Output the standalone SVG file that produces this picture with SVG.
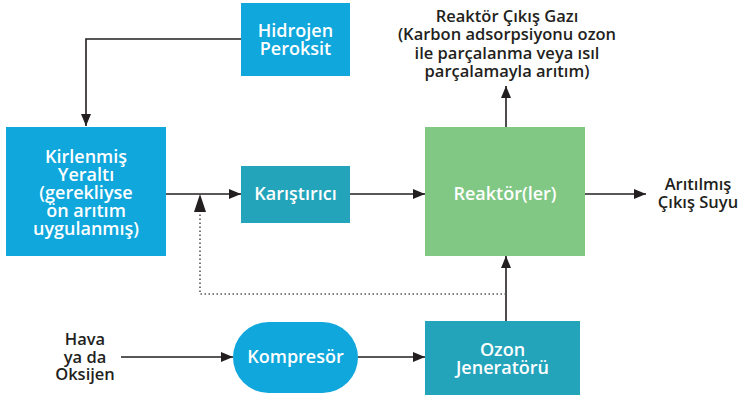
<svg xmlns="http://www.w3.org/2000/svg" width="741" height="395" viewBox="0 0 741 395">
  <defs>
    <marker id="arrow" markerWidth="12" markerHeight="10" refX="12" refY="5" orient="auto" markerUnits="userSpaceOnUse">
      <path d="M0,0 L12,5 L0,10 Z" fill="#231f20"/>
    </marker>
  </defs>
  <style>
    .blue { fill: #0fa7dc; }
    .teal { fill: #23a4bb; }
    .green { fill: #80c884; }
    .lbl { font-family: "Open Sans", "Liberation Sans", sans-serif; font-weight: 600; font-size: 18px; fill: #ffffff; text-anchor: middle; }
    .ext { font-family: "Open Sans", "Liberation Sans", sans-serif; font-weight: 600; font-size: 16.5px; fill: #231f20; text-anchor: middle; }
    .wire { fill: none; stroke: #231f20; stroke-width: 1.6; }
    .dot { fill: none; stroke: #555555; stroke-width: 1.6; stroke-dasharray: 1.5 2.5; }
  </style>

  <g id="connectors">
    <polyline class="wire" points="241,39 86,39 86,126" marker-end="url(#arrow)"/>
    <line class="wire" x1="166" y1="194" x2="241" y2="194" marker-end="url(#arrow)"/>
    <line class="wire" x1="350" y1="194" x2="425" y2="194" marker-end="url(#arrow)"/>
    <line class="wire" x1="585" y1="194" x2="646" y2="194" marker-end="url(#arrow)"/>
    <line class="wire" x1="506" y1="127" x2="506" y2="86" marker-end="url(#arrow)"/>
    <line class="wire" x1="506" y1="321" x2="506" y2="256" marker-end="url(#arrow)"/>
    <line class="wire" x1="121" y1="357" x2="233" y2="357" marker-end="url(#arrow)"/>
    <line class="wire" x1="358" y1="357" x2="425" y2="357" marker-end="url(#arrow)"/>
    <polyline class="dot" points="506,294 200,294 200,212"/>
    <path d="M194,212 L200,194 L206,212 Z" fill="#231f20"/>
  </g>

  <g id="hidrojen-peroksit">
    <rect class="blue" x="241" y="3" width="109" height="73"/>
    <text class="lbl" x="295.5" y="37"><tspan x="295.5">Hidrojen</tspan><tspan x="295.5" dy="18">Peroksit</tspan></text>
  </g>

  <g id="kirlenmis-yeralti">
    <rect class="blue" x="6" y="127" width="160" height="129"/>
    <text class="lbl" x="86" y="163"><tspan x="86">Kirlenmiş</tspan><tspan x="86" dy="18">Yeraltı</tspan><tspan x="86" dy="18">(gerekliyse</tspan><tspan x="86" dy="18">ön arıtım</tspan><tspan x="86" dy="18">uygulanmış)</tspan></text>
  </g>

  <g id="karistirici">
    <rect class="teal" x="241" y="166" width="109" height="57"/>
    <text class="lbl" x="295.5" y="200">Karıştırıcı</text>
  </g>

  <g id="reaktor">
    <rect class="green" x="425" y="127" width="160" height="129"/>
    <text class="lbl" x="505" y="200">Reaktör(ler)</text>
  </g>

  <g id="reaktor-cikis-gazi">
    <text class="ext" x="507" y="22"><tspan x="507">Reaktör Çıkış Gazı</tspan><tspan x="507" dy="18.3">(Karbon adsorpsiyonu ozon</tspan><tspan x="507" dy="18.3">ile parçalanma veya ısıl</tspan><tspan x="507" dy="18.3">parçalamayla arıtım)</tspan></text>
  </g>

  <g id="aritilmis-cikis-suyu">
    <text class="ext" x="698" y="190"><tspan x="698">Arıtılmış</tspan><tspan x="698" dy="18">Çıkış Suyu</tspan></text>
  </g>

  <g id="hava-oksijen">
    <text class="ext" x="85" y="345"><tspan x="85">Hava</tspan><tspan x="85" dy="17.5">ya da</tspan><tspan x="85" dy="17.5">Oksijen</tspan></text>
  </g>

  <g id="kompresor">
    <rect class="blue" x="233" y="322" width="125" height="71" rx="35.5" ry="35.5"/>
    <text class="lbl" x="295.5" y="363">Kompresör</text>
  </g>

  <g id="ozon-jeneratoru">
    <rect class="teal" x="425" y="321" width="155" height="74"/>
    <text class="lbl" x="502.5" y="356"><tspan x="502.5">Ozon</tspan><tspan x="502.5" dy="18">Jeneratörü</tspan></text>
  </g>
</svg>
